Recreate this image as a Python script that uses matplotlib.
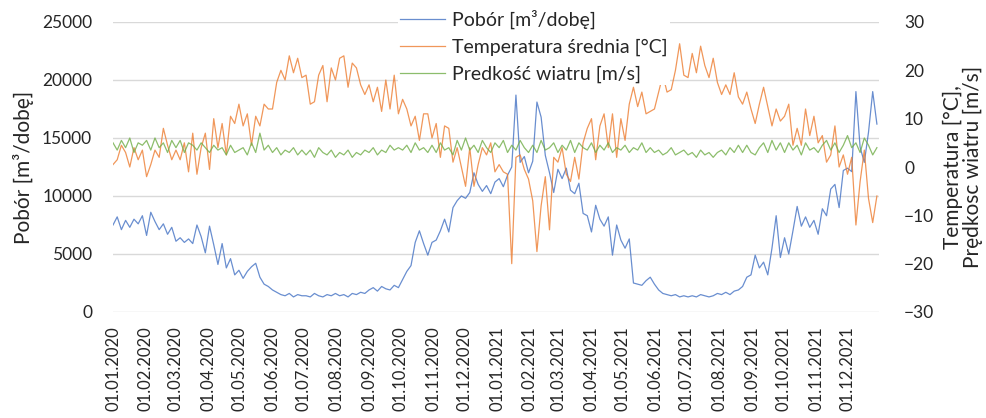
import matplotlib
matplotlib.use("Agg")
import matplotlib.pyplot as plt
import matplotlib.dates as mdates
import pandas as pd

plt.rcParams['font.family'] = ['Lato', 'DejaVu Sans']

# --- data (4-day samples from 01.01.2020) ---
pobor = [
    7500, 8200, 7100, 7900, 7300, 8000, 7600, 8300,          # Jan 2020
    6600, 8600, 7800, 7100, 7600, 6700, 7300,                # Feb
    6100, 6400, 6000, 6300, 5900, 7500, 6500, 5100,          # Mar
    7400, 5800, 4100, 5900, 3800, 4600, 3200, 3600,          # Apr
    2900, 3500, 3900, 4200, 3000, 2400, 2200,                # May
    1900, 1700, 1500, 1400, 1600, 1300, 1500, 1400,          # Jun
    1400, 1300, 1600, 1400, 1300, 1500, 1400, 1600,          # Jul
    1400, 1500, 1300, 1600, 1500, 1700, 1600,                # Aug
    1900, 2100, 1800, 2200, 2000, 1900, 2300, 2100,          # Sep
    2800, 3500, 4000, 6000, 7000, 5900, 4900, 6000,          # Oct
    6200, 7000, 8000, 6900, 9000, 9600, 10000,               # Nov
    9800, 10300, 12000, 11000, 10400, 10900, 10200, 11200,   # Dec
    11500, 10800, 11800, 12500, 18700, 12900, 13400, 12000,  # Jan 2021
    13000, 18100, 16800, 13500, 12000, 10300, 12300,         # Feb
    11500, 12400, 10500, 10200, 11100, 8500, 8300,           # Mar
    6900, 9200, 8000, 7400, 8200, 4900, 7500, 6200,          # Apr
    5500, 6300, 2500, 2400, 2300, 2700, 3000,                # May
    2400, 1900, 1600, 1500, 1400, 1500, 1300, 1400,          # Jun
    1300, 1400, 1300, 1500, 1400, 1300, 1400, 1600,          # Jul
    1500, 1700, 1500, 1800, 1900, 2200, 3000,                # Aug
    3200, 4900, 3800, 4300, 3200, 5500, 8300, 4700,          # Sep
    6400, 5000, 7000, 9100, 7400, 8200, 7300, 7900,          # Oct
    6700, 8900, 8300, 10600, 11000, 9000, 12200,             # Nov
    12400, 12100, 19000, 14200, 12900, 15500, 19000, 16200,  # Dec
]

temperatura = [
    0.5, 1.5, 4.5, 3.0, 0.0, 4.0, 1.5, 3.5,
    -2.0, 0.5, 3.5, 2.0, 8.0, 4.5, 1.5,
    3.5, 1.5, 5.0, -1.0, 7.0, -1.5, 4.0, 7.0,
    -0.5, 10.0, 4.0, 9.0, 2.5, 10.5, 9.0, 13.0,
    8.5, 11.0, 4.5, 10.5, 8.5, 13.0, 12.0,
    12.0, 17.5, 20.0, 18.0, 23.0, 19.5, 22.5, 18.5,
    19.0, 13.0, 13.5, 19.0, 21.0, 13.5, 20.5, 18.0,
    22.5, 23.0, 16.5, 21.5, 20.5, 17.0, 15.0,
    17.0, 13.5, 16.5, 11.5, 18.0, 12.0, 19.0, 11.0,
    14.0, 12.0, 8.5, 10.5, 5.5, 11.0, 11.0, 6.0,
    9.0, 2.0, 8.5, 8.0, 1.0, 4.0, 0.0,
    -4.0, 4.0, -4.0, 0.5, 4.0, 2.5, 5.0, -1.0,
    0.5, -1.0, -1.5, -20.0, 2.0, 2.5, -0.5, -2.5,
    -7.0, -17.5, -8.0, -2.0, -13.0, 2.0, 1.0,
    4.0, -1.5, -3.0, 2.0, -2.5, 5.0, 8.0,
    10.0, 1.5, 8.5, 11.0, 4.0, 11.0, 2.0, 10.0,
    5.5, 13.0, 16.5, 12.5, 15.5, 11.0, 11.5,
    12.0, 15.5, 19.0, 15.5, 16.0, 20.0, 25.5, 19.0,
    18.5, 23.5, 19.5, 25.0, 21.0, 18.5, 22.5, 17.5,
    15.0, 17.0, 15.0, 19.5, 14.5, 13.0, 15.5,
    12.0, 9.0, 13.0, 16.5, 12.5, 8.5, 12.0, 9.5,
    10.5, 13.0, 4.5, 8.0, 4.5, 12.0, 6.5, 10.5,
    5.0, 6.5, 1.0, 2.5, 8.5, 0.0, 2.5,
    -1.5, 2.0, -12.0, -3.0, 3.5, -6.5, -11.5, -6.0,
]

wiatr = [
    5.0, 3.5, 5.5, 4.0, 6.0, 3.0, 5.0, 4.5,
    5.5, 3.5, 6.0, 4.0, 5.0, 3.0, 5.5,
    4.0, 5.5, 3.0, 5.0, 4.5, 3.5, 5.0, 4.0,
    3.0, 4.5, 3.5, 4.0, 2.5, 4.5, 3.0, 3.5,
    4.0, 2.5, 5.0, 3.0, 7.0, 3.5, 4.5,
    3.0, 4.0, 2.5, 3.5, 3.0, 4.0, 2.5, 3.5,
    2.5, 3.5, 2.0, 4.0, 3.0, 2.5, 3.5, 2.0,
    3.0, 2.5, 3.5, 2.0, 3.0, 2.5, 3.5,
    3.0, 4.0, 2.5, 3.5, 3.0, 4.5, 3.5, 4.0,
    3.5, 4.5, 3.0, 5.0, 3.5, 4.0, 3.0, 4.5,
    3.0, 5.0, 3.5, 4.0, 2.5, 5.5, 3.5,
    6.0, 3.5, 4.5, 3.0, 5.5, 4.0, 3.0, 5.0,
    4.0, 5.5, 3.0, 4.5, 3.5, 5.5, 4.0, 3.0,
    4.5, 3.0, 5.5, 3.5, 4.0, 5.0, 3.0,
    4.5, 3.5, 5.5, 3.0, 5.0, 4.0, 3.5,
    5.0, 3.0, 4.5, 3.5, 5.0, 3.0, 4.0, 3.5,
    4.5, 3.0, 4.0, 3.5, 5.0, 3.0, 4.0,
    3.0, 3.5, 2.5, 3.0, 4.0, 2.5, 3.0, 3.5,
    2.5, 3.0, 2.0, 3.5, 2.5, 3.0, 2.0, 3.0,
    3.5, 2.5, 4.0, 3.0, 4.5, 3.0, 4.5,
    3.0, 2.5, 4.0, 5.0, 3.0, 5.5, 3.5, 5.0,
    3.0, 5.0, 3.5, 4.5, 2.5, 5.0, 3.5, 4.0,
    3.0, 4.5, 5.5, 3.5, 5.0, 3.0, 4.5,
    6.5, 4.0, 5.0, 3.0, 6.0, 4.5, 2.5, 4.0,
]

start_date = "2020-01-01"
end_date = "2021-12-31"
tick_labels_fmt = "%d.%m.%Y"

labels = ["Pobór [m³/dobę]", "Temperatura średnia [°C]", "Predkość wiatru [m/s]"]
colors = ["#4472C4", "#ED7D31", "#70AD47"]

dates = pd.date_range(start_date, periods=len(pobor), freq="4D")

fig = plt.figure(figsize=(9.86, 4.18), dpi=100)
ax = fig.add_axes([113/986, 1-312/418, (879-113)/986, (312-22)/418])
ax2 = ax.twinx()

txt_col = "#262626"

l1, = ax.plot(dates, pobor, color=colors[0], lw=0.9, alpha=0.8)
l2, = ax2.plot(dates, temperatura, color=colors[1], lw=0.9, alpha=0.8)
l3, = ax2.plot(dates, wiatr, color=colors[2], lw=0.9, alpha=0.8)

ax.set_ylim(0, 25000)
ax.set_yticks(range(0, 25001, 5000))
ax2.set_ylim(-30, 30)
ax2.set_yticks(range(-30, 31, 10))
ax.set_xlim(pd.Timestamp(start_date), pd.Timestamp(end_date))

ax.xaxis.set_major_locator(mdates.MonthLocator())
ax.xaxis.set_major_formatter(mdates.DateFormatter(tick_labels_fmt))

ax.grid(axis="y", color="#d9d9d9", lw=1)
ax.set_axisbelow(True)
for a in (ax, ax2):
    for s in a.spines.values():
        s.set_visible(False)
    a.tick_params(length=0, colors=txt_col)

ax.tick_params(axis="x", labelsize=12, rotation=90, pad=10)
ax.tick_params(axis="y", labelsize=12.5, pad=15)
ax2.tick_params(axis="y", labelsize=12.5, pad=18)

ax.set_ylabel("Pobór [m³/dobę]", fontsize=15, color=txt_col, labelpad=6)
ax2.set_ylabel("Temperatura [°C],\nPrędkosc wiatru [m/s]", fontsize=15,
               color=txt_col, labelpad=6, linespacing=1.0)

leg = ax2.legend([l1, l2, l3], labels, loc="upper left",
                 bbox_to_anchor=(0.372, 1.05), frameon=True, fontsize=14,
                 handlelength=2.3, handletextpad=0.4, labelspacing=0.5,
                 borderpad=0.1, borderaxespad=0)
leg.get_frame().set_facecolor("white")
leg.get_frame().set_edgecolor("none")
leg.get_frame().set_alpha(1)
for t in leg.get_texts():
    t.set_color(txt_col)

fig.savefig("out.png", dpi=100)
